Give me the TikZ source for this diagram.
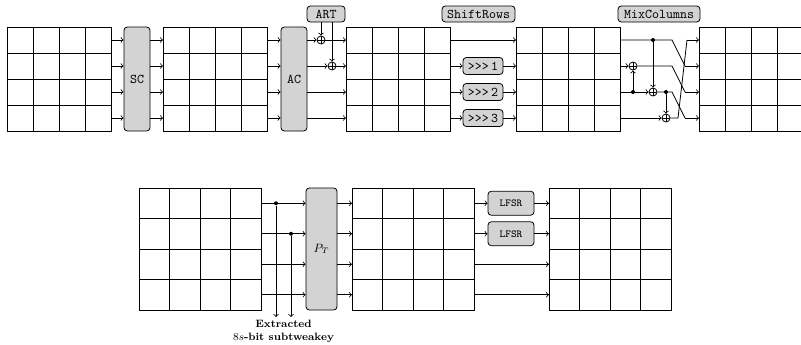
\documentclass[tikz,border=0pt]{standalone}
\usepackage{xcolor}
\usepackage{tikz}
\usetikzlibrary{positioning}
\definecolor{opgray}{RGB}{211,211,211}

\tikzset{
  opbox/.style={draw, rounded corners=2.5pt, fill=opgray, inner sep=0pt, font=\ttfamily},
  xorop/.style={circle, draw, inner sep=0pt, minimum size=6pt,
    path picture={\draw (path picture bounding box.north) -- (path picture bounding box.south)
      (path picture bounding box.west) -- (path picture bounding box.east);}},
  jdot/.style={circle, fill, inner sep=0pt, minimum size=3pt},
}

% 4x4 state: name, left x, top y, cell size (px)
\newcommand{\stategrid}[4]{%
  \node[draw, anchor=north west, inner sep=0pt, minimum width=#4*3pt, minimum height=#4*3pt] (#1) at (#2,#3) {};
  \foreach \k in {1,2,3} {
    \draw (#2+\k*#4,#3) -- (#2+\k*#4,#3+4*#4);
    \draw (#2,#3+\k*#4) -- (#2+4*#4,#3+\k*#4);
  }
  \foreach \k in {1,...,4} {
    \coordinate (#1-w\k) at (#2,#3+\k*#4-0.5*#4);
    \coordinate (#1-e\k) at (#2+4*#4,#3+\k*#4-0.5*#4);
  }
}

\begin{document}
\begin{tikzpicture}[x=0.75pt, y=-0.75pt, line width=0.6pt]
        \useasboundingbox (0,0) rectangle (801,344);

        % Round: SC, AC, ART
        \stategrid{g1}{7}{27}{26}
        \node[opbox, minimum width=19.5pt, minimum height=78pt] (sc) at (137,79) {SC};
        \stategrid{g2}{163}{27}{26}
        \node[opbox, minimum width=19.5pt, minimum height=78pt] (ac) at (294,79) {AC};
        \stategrid{g3}{346}{27}{26}
        \stategrid{g4}{516}{27}{26}
        \stategrid{g5}{699}{27}{26}

        \node[opbox, minimum width=28.5pt, minimum height=12pt] (art) at (326,14) {ART};
        \node[opbox, minimum width=54.75pt, minimum height=12pt] (sr) at (478.5,14) {ShiftRows};
        \node[opbox, minimum width=61.5pt, minimum height=12pt] (mc) at (659,14) {MixColumns};

        \foreach \r in {1,...,4} {
          \draw[->] (g1-e\r) -- (sc.west |- g1-e\r);
          \draw[->] (sc.east |- g2-w\r) -- (g2-w\r);
          \draw[->] (g2-e\r) -- (ac.west |- g2-e\r);
        }

        \node[xorop] (x1) at (321,40) {};
        \node[xorop] (x2) at (332,66) {};
        \draw[->] (ac.east |- x1) -- (x1);
        \draw[->] (x1) -- (g3-w1);
        \draw[->] (ac.east |- x2) -- (x2);
        \draw[->] (x2) -- (g3-w2);
        \draw[->] (art.south -| x1) -- (x1);
        \draw[->] (art.south -| x2) -- (x2);
        \foreach \r in {3,4} \draw[->] (ac.east |- g3-w\r) -- (g3-w\r);

        % ShiftRows
        \coordinate (rotx) at (483,0);
        \draw[->] (g3-e1) -- (g4-w1);
        \foreach \r/\sh in {2/1,3/2,4/3} {
          \node[opbox, minimum width=30pt, minimum height=12.75pt] (rot\sh) at (g3-e\r -| rotx) {>{}>{}>\,\sh};
          \draw[->] (g3-e\r) -- (rot\sh);
          \draw[->] (rot\sh) -- (g4-w\r);
        }

        % MixColumns
        \node[xorop] (m1) at (633,66) {};
        \node[jdot] (d1) at (633,92) {};
        \node[jdot] (d2) at (653,40) {};
        \node[xorop] (m2) at (653,92) {};
        \node[jdot] (d3) at (666,92) {};
        \node[xorop] (m3) at (666,118) {};
        \coordinate (b1) at (672,40);
        \coordinate (b2) at (672,66);
        \coordinate (b3) at (672,92);
        \coordinate (b4) at (678,118);
        \coordinate (c1) at (687,40);
        \coordinate (c2) at (685,66);
        \coordinate (c3) at (685,92);
        \coordinate (c4) at (685,118);

        \draw (g4-e1) -- (b1) -- (c2);
        \draw[->] (c2) -- (g5-w2);
        \draw[->] (g4-e2) -- (m1);
        \draw (m1) -- (b2) -- (c3);
        \draw[->] (c3) -- (g5-w3);
        \draw[->] (g4-e3) -- (m2);
        \draw (m2) -- (b3) -- (c4);
        \draw[->] (c4) -- (g5-w4);
        \draw[->] (g4-e4) -- (m3);
        \draw (m3) -- (b4) -- (c1);
        \draw[->] (c1) -- (g5-w1);
        \draw[->] (d1) -- (m1);
        \draw[->] (d2) -- (m2);
        \draw[->] (d3) -- (m3);

        % Tweakey schedule
        \stategrid{g6}{139}{188}{30.5}
        \node[opbox, minimum width=23.25pt, minimum height=91.5pt, font=\small] (pt) at (321.5,249) {$P_T$};
        \stategrid{g7}{352}{188}{30.5}
        \stategrid{g8}{549}{188}{30.5}

        \foreach \r in {1,...,4} {
          \draw[->] (g6-e\r) -- (pt.west |- g6-e\r);
          \draw[->] (pt.east |- g7-w\r) -- (g7-w\r);
        }

        \node[jdot] (e1) at (276,203.25) {};
        \node[jdot] (e2) at (291,233.75) {};
        \coordinate (k1) at (276,317);
        \coordinate (k2) at (291,317);
        \draw[->] (e1) -- (k1);
        \draw[->] (e2) -- (k2);
        \node[font=\footnotesize\bfseries, align=center, anchor=north, inner sep=1pt] (sub) at (283.5,318) {Extracted\\[0.5pt]$8s$-bit subtweakey};

        \coordinate (lx) at (511,0);
        \foreach \r in {1,2} {
          \node[opbox, minimum width=34.5pt, minimum height=18pt, font=\ttfamily\footnotesize] (lfsr\r) at (g7-e\r -| lx) {LFSR};
          \draw[->] (g7-e\r) -- (lfsr\r);
          \draw[->] (lfsr\r) -- (g8-w\r);
        }
        \foreach \r in {3,4} \draw[->] (g7-e\r) -- (g8-w\r);
    \end{tikzpicture}
\end{document}
